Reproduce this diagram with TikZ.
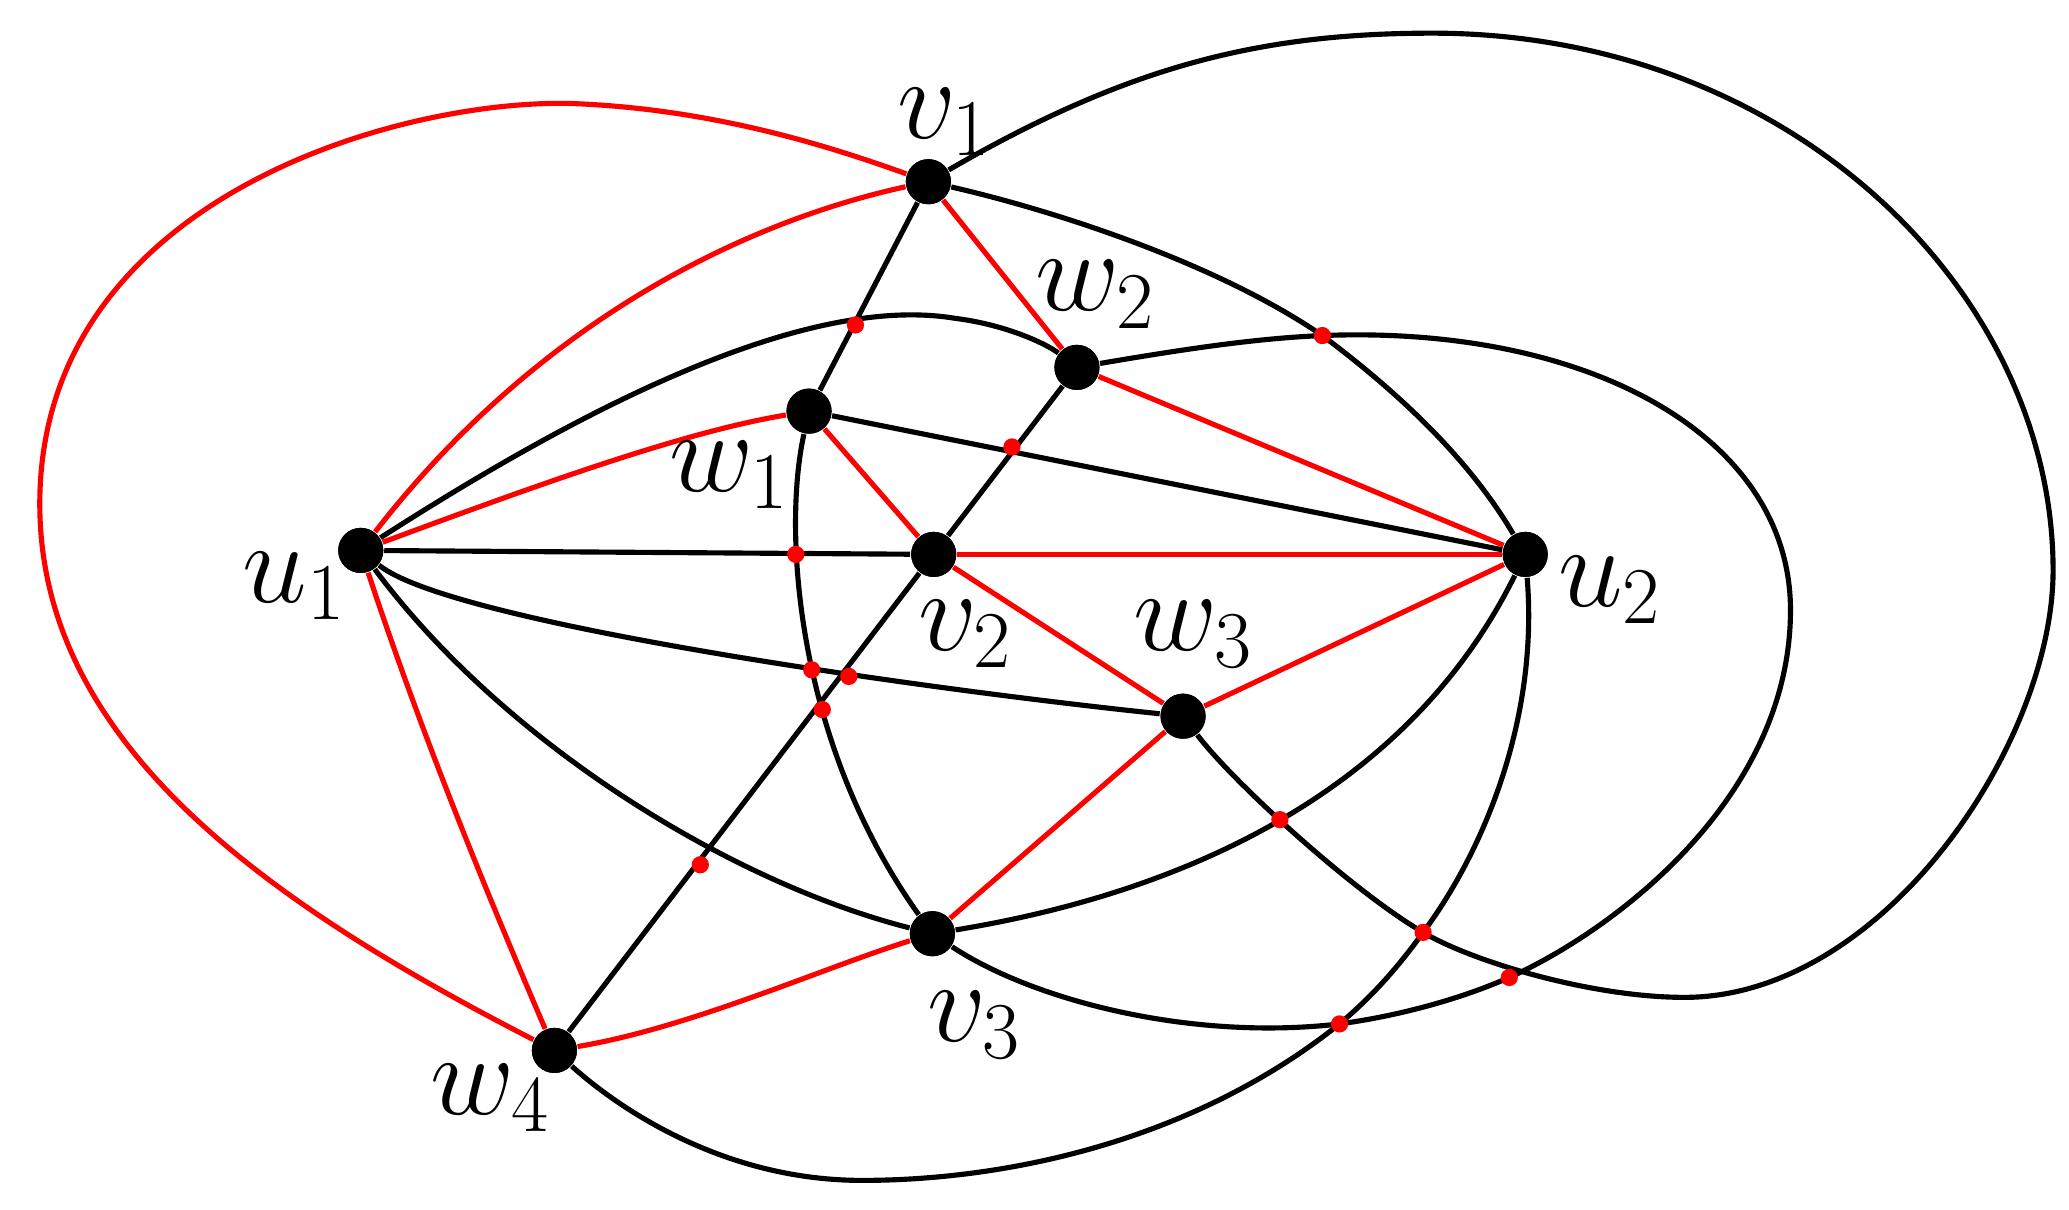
\documentclass[tikz,border=0pt]{standalone}
\begin{document}
\begin{tikzpicture}[x=0.01cm,y=-0.01cm,
  blk/.style={line width=1.1pt,black},
  rd/.style={line width=1.1pt,red},
  vert/.style={circle,fill=black,inner sep=0pt,minimum size=0.34cm},
  xdot/.style={circle,fill=red,inner sep=0pt,minimum size=0.13cm},
  lab/.style={font=\fontsize{24}{26}\selectfont}]
\useasboundingbox (0,0) rectangle (1560,912);
\node[vert] (v1) at (700,137) {};
\node[vert] (w2) at (812,277) {};
\node[vert] (w1) at (610,310) {};
\node[vert] (u1) at (272,415) {};
\node[vert] (v2) at (704,418) {};
\node[vert] (u2) at (1150,418) {};
\node[vert] (w3) at (892,540) {};
\node[vert] (v3) at (703,704) {};
\node[vert] (w4) at (418,792) {};
% black edges
\draw[blk] (v1) -- (w1);
\draw[blk] (w1) -- (u2);
\draw[blk] (w2) -- (v2);
\draw[blk] (v2) -- (w4);
\draw[blk] (u1) -- (v2);
\draw[blk] (v1) .. controls (800,160) and (920,200) .. (997,253) .. controls (1060,300) and (1110,350) .. (u2);
\draw[blk] (v1) .. controls (850,50) and (950,25) .. (1080,25) .. controls (1350,25) and (1548,220) .. (1548,430) .. controls (1548,560) and (1420,752) .. (1270,752) .. controls (1200,752) and (1110,725) .. (1073,703) .. controls (1020,672) and (930,590) .. (w3);
\draw[blk] (u1) .. controls (420,320) and (600,220) .. (720,240) .. controls (760,245) and (790,260) .. (w2);
\draw[blk] (w2) .. controls (900,262) and (950,255) .. (997,253) .. controls (1200,245) and (1350,330) .. (1350,460) .. controls (1350,600) and (1220,700) .. (1138,737) .. controls (1090,758) and (1040,768) .. (1010,772) .. controls (900,785) and (780,755) .. (v3);
\draw[blk] (w1) .. controls (590,400) and (600,560) .. (v3);
\draw[blk] (u1) .. controls (340,470) and (700,520) .. (w3);
\draw[blk] (u1) .. controls (380,560) and (550,665) .. (v3);
\draw[blk] (v3) .. controls (850,680) and (1050,620) .. (u2);
\draw[blk] (u2) .. controls (1160,540) and (1120,640) .. (1073,703) .. controls (1050,735) and (1030,755) .. (1010,772) .. controls (900,860) and (760,890) .. (650,890) .. controls (540,890) and (460,830) .. (w4);
% red edges
\draw[rd] (u1) .. controls (420,360) and (520,325) .. (w1);
\draw[rd] (u1) .. controls (400,250) and (550,170) .. (v1);
\draw[rd] (u1) .. controls (320,560) and (370,680) .. (w4);
\draw[rd] (w4) .. controls (200,680) and (30,560) .. (30,380) .. controls (30,150) and (300,75) .. (430,78) .. controls (540,82) and (630,112) .. (v1);
\draw[rd] (w4) .. controls (520,775) and (620,730) .. (v3);
\draw[rd] (v1) -- (w2);
\draw[rd] (w2) -- (u2);
\draw[rd] (w1) -- (v2);
\draw[rd] (v2) -- (u2);
\draw[rd] (v2) -- (w3);
\draw[rd] (w3) -- (u2);
\draw[rd] (w3) -- (v3);
% redraw vertices on top
\foreach \n in {v1,w2,w1,u1,v2,u2,w3,v3,w4} \fill (\n) circle (0.17cm);
% crossing dots
\foreach \p/\q in {645/245,997/253,763/337,600/418,612/505,640/510,620/535,528/652,965/618,1073/703,1138/737,1010/772}
  \node[xdot] at (\p,\q) {};
% labels
\node[lab] (lv1) at (712,92) {$v_1$};
\node[lab] (lw2) at (826,222) {$w_2$};
\node[lab] (lw1) at (550,358) {$w_1$};
\node[lab] (lu1) at (222,442) {$u_1$};
\node[lab] (lv2) at (728,478) {$v_2$};
\node[lab] (lu2) at (1214,445) {$u_2$};
\node[lab] (lw3) at (900,478) {$w_3$};
\node[lab] (lv3) at (735,773) {$v_3$};
\node[lab] (lw4) at (370,828) {$w_4$};
\end{tikzpicture}
\end{document}
